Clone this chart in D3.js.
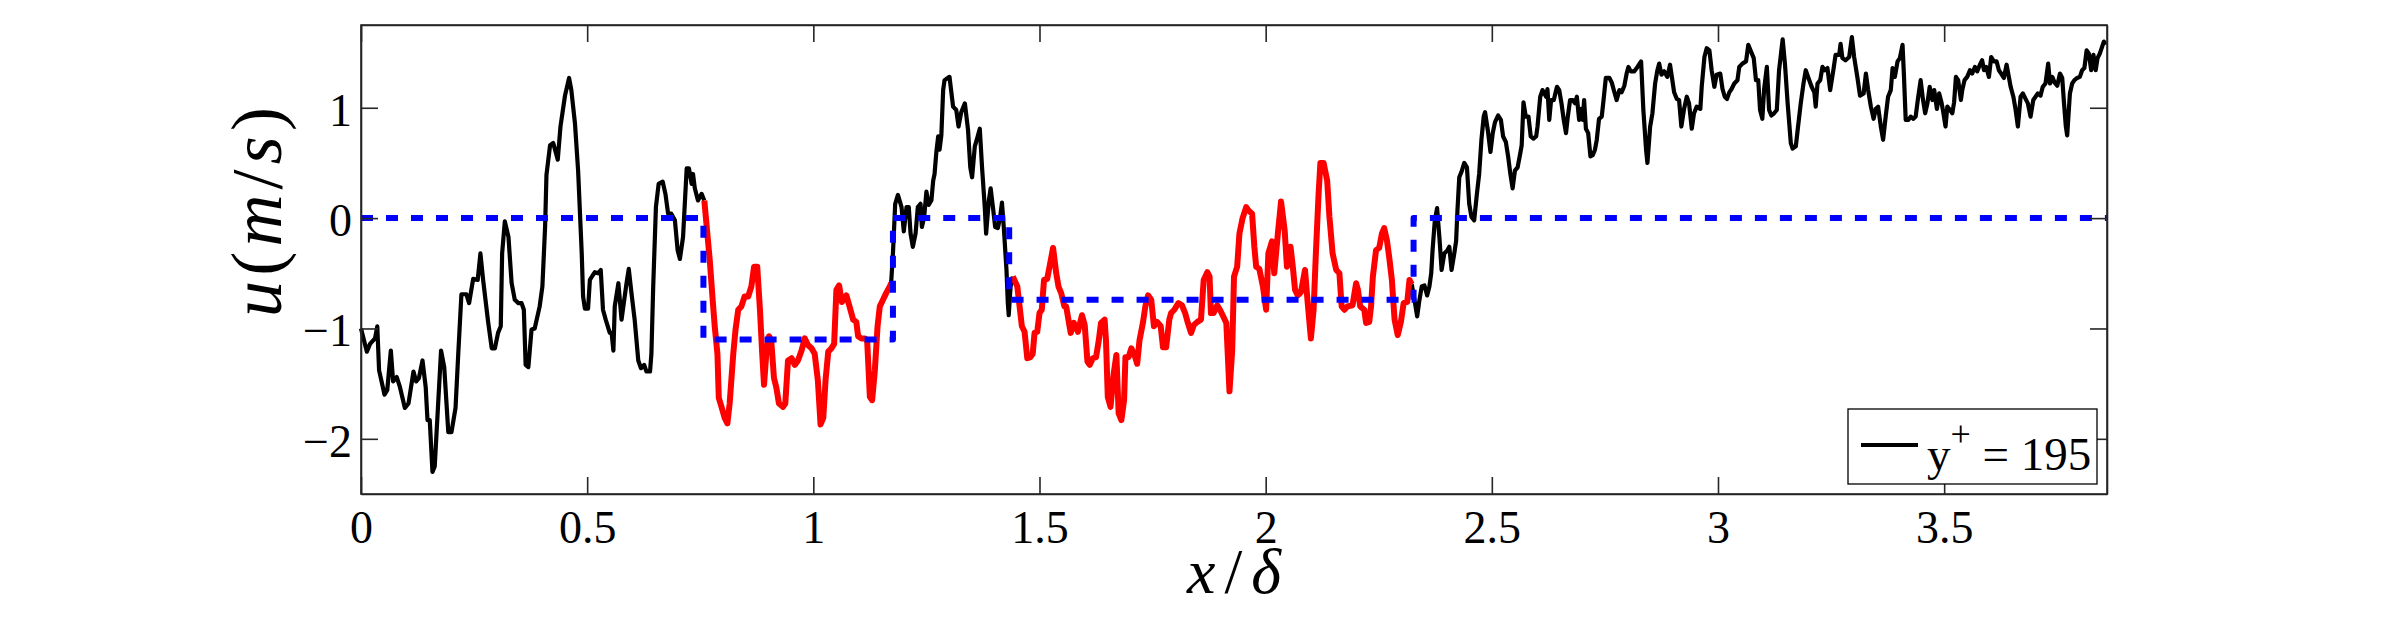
<!DOCTYPE html>
<html>
<head>
<meta charset="utf-8">
<script src="https://cdn.jsdelivr.net/npm/d3@7"></script>
<style>
  body { margin: 0; background: #fff; }
  svg { display: block; }
  .axis path, .axis line { stroke: #262626; stroke-width: 1.6; }
</style>
</head>
<body>
<div id="vizs"></div>
<script>
// x/delta, u (m/s), split where the trace changes colour
var tracePre = [[0,-1.00],[0.013,-1.21],[0.020,-1.14],[0.031,-1.09],[0.036,-0.98],[0.040,-1.38],[0.052,-1.60],[0.058,-1.56],[0.066,-1.20],[0.071,-1.48],[0.079,-1.44],[0.086,-1.53],[0.097,-1.72],[0.105,-1.68],[0.116,-1.39],[0.122,-1.48],[0.128,-1.45],[0.136,-1.29],[0.143,-1.53],[0.147,-1.83],[0.152,-1.83],[0.158,-2.30],[0.163,-2.25],[0.177,-1.20],[0.184,-1.35],[0.193,-1.94],[0.200,-1.94],[0.209,-1.72],[0.215,-1.23],[0.222,-0.69],[0.233,-0.69],[0.239,-0.77],[0.248,-0.55],[0.258,-0.56],[0.264,-0.32],[0.270,-0.56],[0.281,-0.94],[0.289,-1.18],[0.296,-1.18],[0.303,-1.04],[0.309,-0.98],[0.312,-0.32],[0.318,-0.03],[0.326,-0.17],[0.333,-0.59],[0.340,-0.74],[0.348,-0.77],[0.355,-0.77],[0.360,-0.83],[0.364,-1.33],[0.370,-1.35],[0.377,-1.01],[0.384,-1.00],[0.395,-0.80],[0.401,-0.62],[0.407,-0.08],[0.410,0.39],[0.418,0.66],[0.425,0.68],[0.435,0.53],[0.441,0.83],[0.451,1.11],[0.460,1.27],[0.465,1.16],[0.473,0.86],[0.480,0.43],[0.488,-0.32],[0.491,-0.71],[0.495,-0.82],[0.502,-0.82],[0.506,-0.56],[0.512,-0.52],[0.517,-0.49],[0.524,-0.50],[0.530,-0.47],[0.535,-0.83],[0.541,-0.92],[0.550,-1.04],[0.554,-1.04],[0.558,-1.20],[0.561,-0.80],[0.569,-0.59],[0.576,-0.92],[0.587,-0.59],[0.592,-0.46],[0.598,-0.68],[0.605,-0.92],[0.613,-1.29],[0.619,-1.36],[0.626,-1.33],[0.631,-1.39],[0.639,-1.39],[0.642,-1.23],[0.646,-0.62],[0.652,0.10],[0.658,0.31],[0.667,0.33],[0.673,0.22],[0.679,0.04],[0.686,0.04],[0.694,-0.02],[0.700,-0.29],[0.705,-0.37],[0.712,-0.17],[0.720,0.45],[0.725,0.45],[0.731,0.31],[0.734,0.40],[0.738,0.27],[0.745,0.16],[0.753,0.22],[0.759,0.16]];

var traceBubble1 = [[0.759,0.16],[0.771,-0.38],[0.778,-0.77],[0.782,-0.98],[0.788,-1.23],[0.791,-1.63],[0.797,-1.71],[0.804,-1.81],[0.810,-1.86],[0.815,-1.68],[0.823,-1.23],[0.828,-1.01],[0.834,-0.83],[0.841,-0.80],[0.848,-0.71],[0.856,-0.71],[0.863,-0.62],[0.869,-0.44],[0.876,-0.44],[0.882,-0.83],[0.887,-1.23],[0.891,-1.51],[0.896,-1.23],[0.902,-1.07],[0.907,-1.11],[0.913,-1.45],[0.918,-1.53],[0.924,-1.68],[0.933,-1.71],[0.938,-1.68],[0.944,-1.29],[0.952,-1.27],[0.959,-1.33],[0.966,-1.29],[0.974,-1.20],[0.981,-1.09],[0.988,-1.15],[0.996,-1.18],[1.003,-1.23],[1.010,-1.47],[1.016,-1.87],[1.022,-1.81],[1.027,-1.47],[1.033,-1.21],[1.040,-1.18],[1.046,-1.14],[1.051,-0.65],[1.057,-0.61],[1.063,-0.76],[1.073,-0.70],[1.080,-0.80],[1.088,-0.92],[1.095,-0.94],[1.099,-1.07],[1.106,-1.09],[1.114,-1.09],[1.119,-1.11],[1.125,-1.62],[1.130,-1.65],[1.136,-1.38],[1.142,-0.98],[1.147,-0.80],[1.154,-0.74],[1.161,-0.68],[1.169,-0.62],[1.172,-0.59]];

var traceMid = [[1.172,-0.59],[1.176,-0.32],[1.181,0.13],[1.187,0.21],[1.195,0.10],[1.200,-0.12],[1.206,0.10],[1.211,0.10],[1.215,-0.14],[1.220,-0.26],[1.226,-0.14],[1.231,0.10],[1.237,0.13],[1.240,-0.08],[1.245,0.01],[1.250,0.24],[1.255,0.12],[1.261,0.16],[1.265,0.34],[1.268,0.40],[1.272,0.60],[1.276,0.74],[1.279,0.62],[1.283,0.75],[1.287,1.16],[1.290,1.25],[1.301,1.28],[1.309,1.01],[1.316,0.98],[1.321,0.83],[1.327,0.96],[1.335,1.04],[1.342,0.80],[1.347,0.46],[1.351,0.37],[1.357,0.65],[1.362,0.72],[1.368,0.81],[1.373,0.46],[1.379,0.10],[1.382,-0.14],[1.388,0.16],[1.392,0.27],[1.397,0.10],[1.402,-0.08],[1.408,-0.09],[1.413,0.01],[1.417,0.14],[1.421,-0.08],[1.427,-0.47],[1.430,-0.77],[1.432,-0.88],[1.436,-0.62],[1.441,-0.53]];

var traceBubble2 = [[1.441,-0.53],[1.451,-0.62],[1.456,-0.80],[1.461,-0.98],[1.467,-1.03],[1.473,-1.27],[1.480,-1.26],[1.485,-1.23],[1.489,-1.04],[1.495,-1.03],[1.500,-0.86],[1.505,-0.83],[1.510,-0.56],[1.517,-0.55],[1.525,-0.38],[1.530,-0.27],[1.537,-0.50],[1.542,-0.62],[1.548,-0.68],[1.555,-0.80],[1.559,-0.80],[1.569,-1.04],[1.576,-0.95],[1.585,-1.03],[1.594,-0.88],[1.600,-0.97],[1.606,-1.30],[1.611,-1.33],[1.618,-1.27],[1.625,-1.26],[1.631,-1.11],[1.636,-0.95],[1.644,-0.92],[1.647,-1.11],[1.651,-1.62],[1.657,-1.71],[1.664,-1.41],[1.670,-1.24],[1.675,-1.77],[1.681,-1.83],[1.687,-1.65],[1.690,-1.26],[1.697,-1.26],[1.703,-1.18],[1.710,-1.24],[1.716,-1.32],[1.721,-1.11],[1.729,-0.94],[1.734,-0.80],[1.740,-0.70],[1.747,-0.74],[1.753,-0.98],[1.760,-0.94],[1.768,-0.98],[1.773,-1.17],[1.780,-1.17],[1.787,-0.92],[1.791,-0.86],[1.798,-0.83],[1.807,-0.77],[1.815,-0.79],[1.822,-0.86],[1.828,-0.95],[1.835,-1.04],[1.841,-0.97],[1.849,-0.94],[1.857,-0.92],[1.863,-0.56],[1.871,-0.49],[1.876,-0.53],[1.879,-0.86],[1.885,-0.86],[1.893,-0.79],[1.899,-0.83],[1.905,-0.88],[1.913,-0.95],[1.920,-1.57],[1.926,-1.20],[1.930,-0.53],[1.937,-0.44],[1.942,-0.14],[1.949,0.00],[1.957,0.10],[1.962,0.07],[1.970,0.04],[1.975,-0.26],[1.979,-0.44],[1.986,-0.46],[1.994,-0.62],[2.001,-0.83],[2.006,-0.32],[2.014,-0.21],[2.019,-0.50],[2.027,-0.14],[2.034,0.15],[2.042,-0.11],[2.047,-0.44],[2.055,-0.26],[2.060,-0.44],[2.065,-0.65],[2.071,-0.70],[2.078,-0.67],[2.087,-0.47],[2.093,-0.77],[2.100,-1.09],[2.106,-0.83],[2.111,-0.32],[2.117,0.22],[2.121,0.50],[2.128,0.50],[2.136,0.34],[2.141,0.01],[2.148,-0.32],[2.156,-0.47],[2.163,-0.50],[2.168,-0.80],[2.174,-0.83],[2.181,-0.80],[2.192,-0.79],[2.200,-0.59],[2.204,-0.65],[2.209,-0.80],[2.218,-0.83],[2.222,-0.95],[2.229,-0.94],[2.233,-0.80],[2.237,-0.53],[2.244,-0.29],[2.251,-0.27],[2.257,-0.14],[2.262,-0.09],[2.268,-0.20],[2.273,-0.35],[2.279,-0.56],[2.285,-0.92],[2.292,-1.06],[2.299,-0.94],[2.305,-0.77],[2.313,-0.76],[2.318,-0.56],[2.323,-0.60]];

var tracePost = [[2.323,-0.60],[2.329,-0.74],[2.335,-0.89],[2.340,-0.74],[2.345,-0.62],[2.351,-0.61],[2.357,-0.70],[2.362,-0.62],[2.366,-0.50],[2.369,-0.29],[2.374,-0.02],[2.379,0.09],[2.384,-0.17],[2.389,-0.47],[2.395,-0.32],[2.402,-0.29],[2.406,-0.26],[2.411,-0.47],[2.417,-0.32],[2.421,-0.21],[2.424,0.07],[2.428,0.37],[2.433,0.42],[2.439,0.50],[2.445,0.46],[2.450,0.13],[2.455,0.01],[2.461,-0.02],[2.467,0.22],[2.472,0.40],[2.477,0.71],[2.482,0.92],[2.485,0.96],[2.491,0.80],[2.497,0.60],[2.502,0.77],[2.507,0.87],[2.514,0.93],[2.520,0.89],[2.525,0.74],[2.531,0.69],[2.536,0.56],[2.541,0.40],[2.546,0.27],[2.551,0.43],[2.557,0.46],[2.563,0.59],[2.566,0.66],[2.570,1.05],[2.575,0.92],[2.581,0.92],[2.586,0.74],[2.592,0.72],[2.598,0.74],[2.601,0.83],[2.607,1.10],[2.612,1.16],[2.620,1.10],[2.623,1.17],[2.627,0.89],[2.631,1.07],[2.637,1.07],[2.644,1.19],[2.649,1.16],[2.654,1.04],[2.659,0.89],[2.664,0.77],[2.668,0.92],[2.673,1.07],[2.679,1.07],[2.684,1.04],[2.688,1.10],[2.693,0.89],[2.697,0.99],[2.701,0.89],[2.704,1.07],[2.708,0.81],[2.713,0.77],[2.718,0.56],[2.723,0.57],[2.728,0.62],[2.732,0.71],[2.737,0.90],[2.743,0.92],[2.747,1.07],[2.752,1.27],[2.760,1.27],[2.765,1.23],[2.771,1.14],[2.776,1.07],[2.782,1.16],[2.787,1.14],[2.793,1.20],[2.798,1.31],[2.802,1.37],[2.807,1.33],[2.815,1.33],[2.822,1.37],[2.830,1.42],[2.835,0.98],[2.841,0.62],[2.844,0.50],[2.850,0.83],[2.855,0.95],[2.861,1.22],[2.866,1.34],[2.870,1.40],[2.875,1.30],[2.881,1.33],[2.888,1.28],[2.894,1.39],[2.898,1.28],[2.903,1.14],[2.909,1.08],[2.914,1.07],[2.919,0.83],[2.925,0.99],[2.931,1.10],[2.936,1.04],[2.942,0.81],[2.947,0.95],[2.953,1.01],[2.961,0.99],[2.964,1.19],[2.970,1.46],[2.975,1.54],[2.981,1.52],[2.986,1.34],[2.992,1.19],[2.997,1.30],[3.005,1.31],[3.010,1.17],[3.015,1.10],[3.020,1.08],[3.025,1.14],[3.030,1.17],[3.036,1.22],[3.043,1.25],[3.047,1.37],[3.054,1.40],[3.062,1.42],[3.067,1.57],[3.073,1.51],[3.079,1.45],[3.084,1.25],[3.089,1.25],[3.093,0.98],[3.098,0.90],[3.102,1.17],[3.108,1.37],[3.113,0.98],[3.118,0.93],[3.124,0.95],[3.130,0.98],[3.135,1.34],[3.143,1.62],[3.148,1.40],[3.154,1.04],[3.161,0.68],[3.165,0.63],[3.172,0.65],[3.177,0.83],[3.183,1.04],[3.189,1.22],[3.194,1.34],[3.200,1.27],[3.207,1.19],[3.213,1.14],[3.216,1.01],[3.220,1.22],[3.226,1.25],[3.231,1.37],[3.236,1.34],[3.242,1.36],[3.248,1.16],[3.255,1.34],[3.260,1.48],[3.268,1.48],[3.271,1.58],[3.275,1.45],[3.282,1.43],[3.290,1.46],[3.296,1.64],[3.301,1.46],[3.308,1.28],[3.314,1.11],[3.322,1.13],[3.327,1.31],[3.332,1.16],[3.338,1.01],[3.344,0.90],[3.349,0.99],[3.354,1.01],[3.360,0.83],[3.365,0.71],[3.371,0.93],[3.376,1.10],[3.382,1.16],[3.386,1.36],[3.391,1.28],[3.397,1.42],[3.402,1.45],[3.408,1.57],[3.411,1.30],[3.415,0.89],[3.421,0.89],[3.426,0.92],[3.432,0.90],[3.437,0.92],[3.442,1.08],[3.448,1.25],[3.453,1.08],[3.458,0.95],[3.463,1.04],[3.468,1.19],[3.474,1.07],[3.478,1.16],[3.484,0.99],[3.489,1.13],[3.494,1.05],[3.498,0.96],[3.503,0.83],[3.507,1.01],[3.513,0.98],[3.518,0.95],[3.522,1.05],[3.526,1.28],[3.531,1.25],[3.537,1.07],[3.540,1.16],[3.545,1.25],[3.551,1.28],[3.557,1.34],[3.562,1.31],[3.568,1.37],[3.573,1.33],[3.579,1.39],[3.584,1.43],[3.588,1.34],[3.593,1.37],[3.599,1.28],[3.604,1.46],[3.610,1.42],[3.616,1.42],[3.621,1.34],[3.626,1.31],[3.632,1.27],[3.638,1.39],[3.643,1.28],[3.647,1.19],[3.653,1.10],[3.658,0.98],[3.663,0.83],[3.669,1.10],[3.674,1.13],[3.680,1.08],[3.685,1.04],[3.691,0.92],[3.697,1.07],[3.702,1.10],[3.707,1.13],[3.713,1.11],[3.718,1.19],[3.724,1.22],[3.730,1.40],[3.734,1.22],[3.739,1.28],[3.744,1.23],[3.750,1.20],[3.756,1.31],[3.761,1.27],[3.765,1.04],[3.769,0.83],[3.772,0.75],[3.778,1.13],[3.783,1.22],[3.788,1.25],[3.794,1.27],[3.800,1.28],[3.805,1.34],[3.810,1.36],[3.815,1.52],[3.820,1.49],[3.825,1.34],[3.830,1.48],[3.835,1.34],[3.839,1.45],[3.844,1.49],[3.849,1.55],[3.853,1.60],[3.857,1.57]];

// step function marking the two bubbles (dashed blue)
var stepX = [0, 0.757, 0.757, 1.176, 1.176, 1.433, 1.433, 2.327, 2.327, 3.86];
var stepU = [0, 0, -1.10, -1.10, 0, 0, -0.74, -0.74, 0, 0];

var xTicks = [0, 0.5, 1, 1.5, 2, 2.5, 3, 3.5];
var yTicks = [-2, -1, 0, 1];
var xDomain = [0, 3.86];
var yDomain = [-2.5, 1.75];

var W = 2407, H = 628;
var margin = {top: 25, right: 300, bottom: 134, left: 361};
var width = W - margin.left - margin.right,
    height = H - margin.top - margin.bottom;
var serif = "'Liberation Serif', 'Times New Roman', Times, serif";

var xScale = d3.scaleLinear().domain(xDomain).range([0, width]);
var yScale = d3.scaleLinear().domain(yDomain).range([height, 0]);

var svg = d3.select("#vizs")
    .append("svg")
    .attr("width", W)
    .attr("height", H)
    .append("g")
    .attr("transform", "translate(" + margin.left + "," + margin.top + ")");

var line = d3.line()
    .x(function(d) { return xScale(d[0]); })
    .y(function(d) { return yScale(d[1]); });

// traces
[tracePre, traceMid, tracePost].forEach(function(seg) {
    svg.append("path")
        .datum(seg)
        .attr("d", line)
        .attr("fill", "none")
        .attr("stroke", "#000")
        .attr("stroke-width", 4.2)
        .attr("stroke-linejoin", "round");
});
[traceBubble1, traceBubble2].forEach(function(seg) {
    svg.append("path")
        .datum(seg)
        .attr("d", line)
        .attr("fill", "none")
        .attr("stroke", "#ff0000")
        .attr("stroke-width", 6)
        .attr("stroke-linejoin", "round");
});

var stepData = stepX.map(function(x, i) { return [x, stepU[i]]; });
svg.append("path")
    .datum(stepData)
    .attr("d", line)
    .attr("fill", "none")
    .attr("stroke", "#0000ff")
    .attr("stroke-width", 6)
    .attr("stroke-dasharray", "12,13")
    .attr("stroke-linejoin", "round");

// axes, MATLAB style: ticks inside, on all four sides
var fmt = function(d) { return d3.format("")(d).replace("-", "\u2212"); };

var styleAxis = function(g) {
    g.attr("font-family", serif).attr("font-size", 46);
    g.selectAll("text").attr("fill", "#000");
};

svg.append("g")
    .attr("class", "x axis")
    .attr("transform", "translate(0," + height + ")")
    .call(d3.axisBottom(xScale).tickValues(xTicks).tickSizeInner(-17).tickSizeOuter(0).tickPadding(16).tickFormat(fmt))
    .call(styleAxis);
svg.append("g")
    .attr("class", "x axis")
    .call(d3.axisTop(xScale).tickValues(xTicks).tickSizeInner(-17).tickSizeOuter(0).tickFormat(""));
svg.append("g")
    .attr("class", "y axis")
    .call(d3.axisLeft(yScale).tickValues(yTicks).tickSizeInner(-17).tickSizeOuter(0).tickPadding(9).tickFormat(fmt))
    .call(styleAxis)
    .selectAll("text").attr("dy", "0.38em");
svg.append("g")
    .attr("class", "y axis")
    .attr("transform", "translate(" + width + ",0)")
    .call(d3.axisRight(yScale).tickValues(yTicks).tickSizeInner(-17).tickSizeOuter(0).tickFormat(""));

svg.append("rect")
    .attr("width", width)
    .attr("height", height)
    .attr("fill", "none")
    .attr("stroke", "#262626")
    .attr("stroke-width", 1.6);

// labels
var xl = svg.append("text")
    .attr("x", width / 2)
    .attr("y", height + 99)
    .attr("text-anchor", "middle")
    .attr("font-family", serif)
    .attr("font-size", 64)
    .attr("textLength", 94)
    .attr("lengthAdjust", "spacing");
xl.append("tspan").attr("font-style", "italic").text("x");
xl.append("tspan").text("/");
xl.append("tspan").attr("font-style", "italic").text("\u03b4");

var yl = svg.append("text")
    .attr("transform", "translate(-80,187) rotate(-90)")
    .attr("text-anchor", "middle")
    .attr("font-family", serif)
    .attr("font-size", 72)
    .attr("textLength", 210)
    .attr("lengthAdjust", "spacing");
yl.append("tspan").attr("font-style", "italic").text("u");
yl.append("tspan").text("(");
yl.append("tspan").attr("font-style", "italic").text("m");
yl.append("tspan").text("/");
yl.append("tspan").attr("font-style", "italic").text("s");
yl.append("tspan").text(")");

// legend
var leg = svg.append("g")
    .attr("transform", "translate(" + (width - 259) + "," + (height - 85) + ")");
leg.append("rect")
    .attr("width", 249)
    .attr("height", 75)
    .attr("fill", "#fff")
    .attr("stroke", "#000")
    .attr("stroke-width", 1.3);
leg.append("line")
    .attr("x1", 13).attr("x2", 70)
    .attr("y1", 36).attr("y2", 36)
    .attr("stroke", "#000")
    .attr("stroke-width", 4.2);
var lt = leg.append("text")
    .attr("x", 79)
    .attr("y", 61)
    .attr("font-family", serif)
    .attr("font-size", 47);
lt.append("tspan").text("y");
lt.append("tspan").attr("font-size", 36).attr("dy", -24).text("+");
lt.append("tspan").attr("dy", 24).text(" = 195");
</script>
</body>
</html>
